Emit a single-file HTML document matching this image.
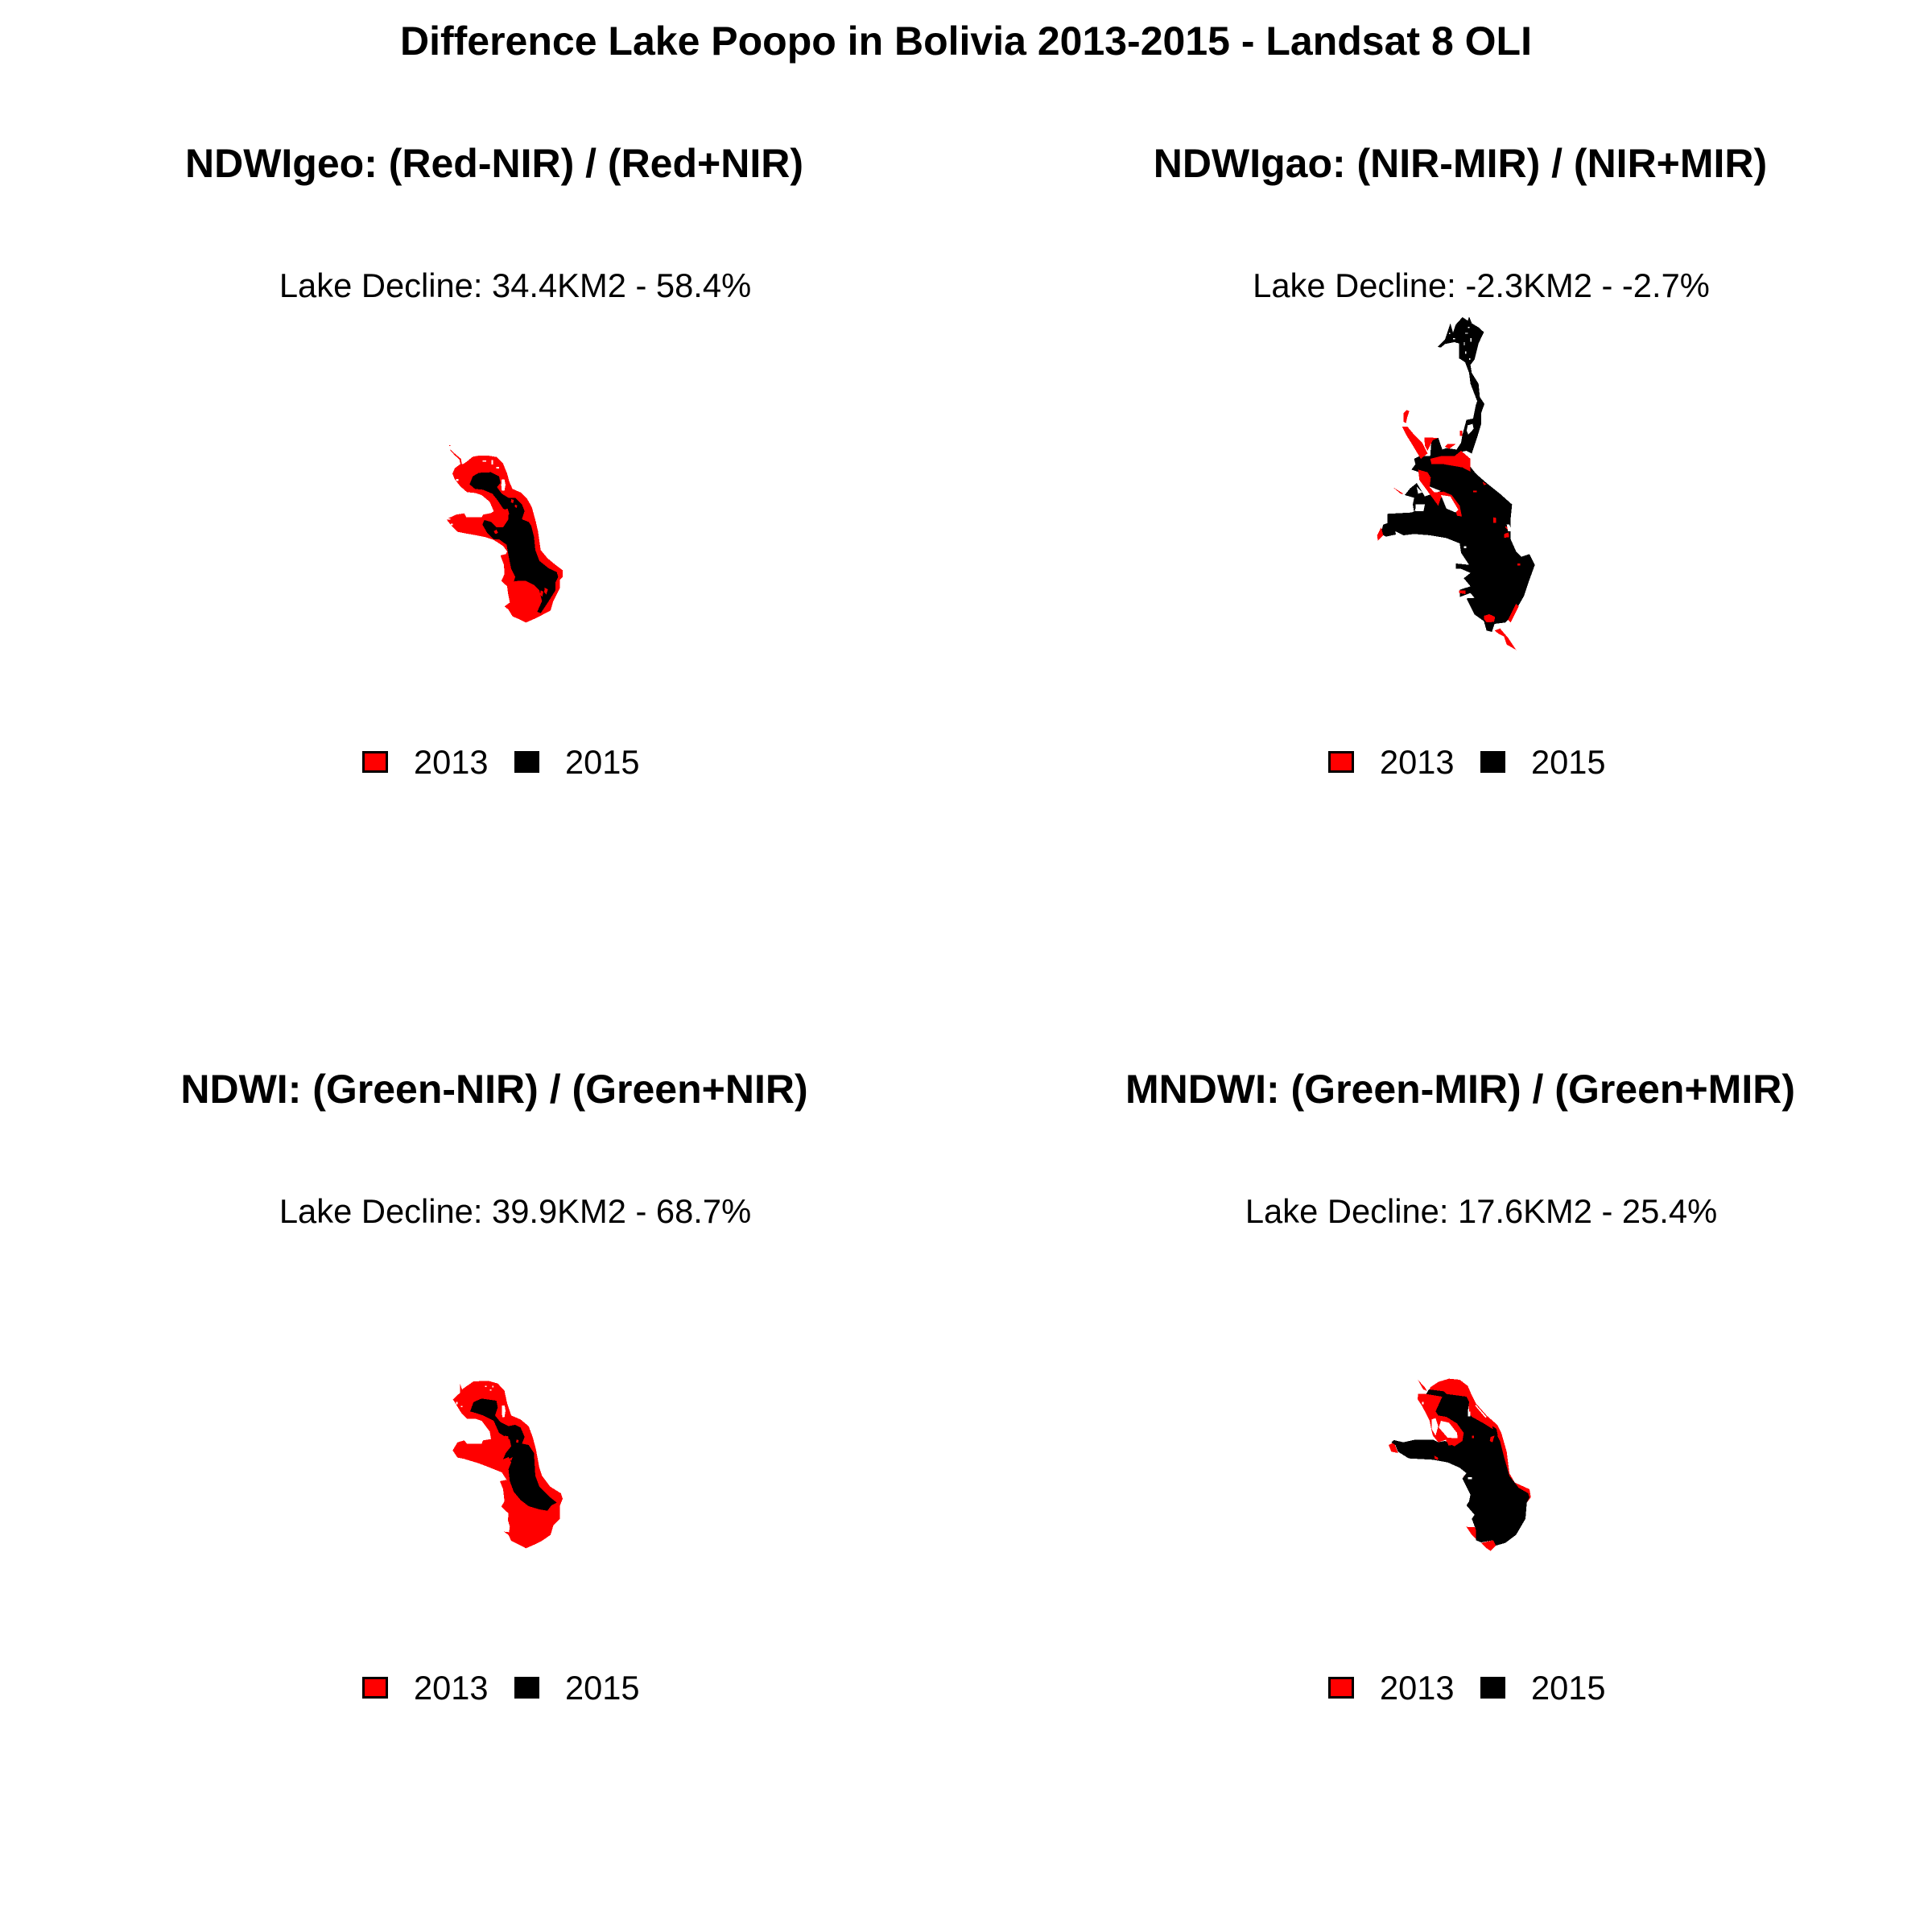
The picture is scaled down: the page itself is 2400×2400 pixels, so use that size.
<!DOCTYPE html>
<html lang="en">
<head>
<meta charset="utf-8">
<title>Difference Lake Poopo in Bolivia 2013-2015</title>
<style>
html,body{margin:0;padding:0;background:#fff;width:2400px;height:2400px;overflow:hidden}
svg{display:block}
text{font-family:"Liberation Sans",Arial,sans-serif;fill:#000}
.main{font-size:50px;font-weight:bold;text-anchor:middle}
.sub{font-size:50px;font-weight:bold;text-anchor:middle}
.dec{font-size:41.7px;text-anchor:middle}
.leg{font-size:41.6px}
.r{fill:#f00}.k{fill:#000}.w{fill:#fff}
</style>
</head>
<body>
<svg xmlns="http://www.w3.org/2000/svg" width="2400" height="2400" viewBox="0 0 2400 2400">
<defs>
<g id="legend-art">
<rect x="451.5" y="934.5" width="29" height="24" fill="#f00" stroke="#000" stroke-width="3"/>
<rect x="640.5" y="934.5" width="28" height="24" fill="#000" stroke="#000" stroke-width="3"/>
</g>
</defs>
<text class="main" x="1200" y="68">Difference Lake Poopo in Bolivia 2013-2015 - Landsat 8 OLI</text>

<!-- Panel 1 -->
<g>
<text class="sub" x="614" y="220">NDWIgeo: (Red-NIR) / (Red+NIR)</text>
<text class="dec" x="640" y="369">Lake Decline: 34.4KM2 - 58.4%</text>
<g transform="translate(500,520) scale(0.33333)" shape-rendering="crispEdges">
<path class="r" d="M225 170L240 160 262 142 285 138 320 138 350 143 375 168 390 205 398 235 410 262 440 275 465 300 482 330 497 385 505 420 515 490 540 520 570 545 597 565 597 590 587 600 587 630 562 680 552 715 520 732 490 747 460 760 440 750 410 737 395 712 380 700 400 685 393 650 390 625 368 605 380 580 378 545 365 510 385 505 390 495 375 475 340 452 310 442 270 434 230 427 205 422 185 402 163 375 200 358 230 353 238 368 295 368 300 358 330 352 340 345 325 310 295 285 270 277 240 274 215 252 195 227 186 205 195 185 215 170Z"/>
<path class="r" d="M178 115L200 135 218 150 222 172 216 170 212 152 195 137 178 118ZM174 99h4v3h-4Z"/>
<path class="k" d="M250 245L262 215 285 202 330 200 360 215 365 240 352 255 370 280 395 295 420 295 445 320 455 345 445 375 470 385 480 400 490 440 495 490 510 530 545 558 575 572 580 590 570 610 570 640 545 680 515 725 502 720 520 680 510 640 490 620 460 605 430 605 415 607 420 590 405 560 395 510 388 470 360 450 340 450 315 425 298 395 305 378 330 385 350 405 375 405 395 375 395 345 375 335 355 305 335 280 300 265 270 262Z"/>
<path class="r" d="M378 340l14-5 6 22-12 5ZM340 420l10-6 6 12-10 4ZM405 300l10 3-3 12-8-3ZM420 320l8 4-4 10-6-6ZM515 640l10 5-4 20-8-10ZM530 630l12 6-6 20-8-8Z"/>
<path class="w" d="M370 226h10l4 20-4 22h-10l-2-20ZM298 156h14v4h-14ZM332 155h6v16h-6ZM350 180h10v6h-10ZM200 225h8v8h-8ZM164 372h14v4h-14ZM180 392h8v5h-8Z"/>
</g>
<use href="#legend-art"/>
<text class="leg" x="514" y="961">2013</text>
<text class="leg" x="702" y="961">2015</text>
</g>

<!-- Panel 2 -->
<g>
<text class="sub" x="1814" y="220">NDWIgao: (NIR-MIR) / (NIR+MIR)</text>
<text class="dec" x="1840" y="369">Lake Decline: -2.3KM2 - -2.7%</text>
<g transform="translate(1680,370) scale(0.33333)" shape-rendering="crispEdges">
<path class="k" d="M318 183L345 155 365 95 375 130 385 100 410 72 430 85 435 70 445 95 470 110 490 128 470 170 455 230 440 250 445 280 470 320 475 370 492 395 480 430 480 470 465 520 445 580 425 570 400 575 385 570 405 540 410 510 425 455 450 450 460 400 465 385 440 320 435 280 420 240 397 225 397 170 380 165 345 172 330 185Z"/>
<path class="k" d="M295 525L320 522 335 565 350 560 385 565 440 600 440 630 460 655 500 690 550 730 595 770 590 820 590 900 610 945 630 965 660 955 680 995 660 1050 640 1110 600 1180 570 1210 530 1215 520 1245 500 1240 490 1205 455 1180 425 1120 455 1118 440 1100 400 1115 400 1088 440 1075 415 1045 440 1025 405 1010 385 1010 385 990 435 995 405 950 400 915 350 895 290 885 230 880 190 885 160 870 162 882 125 890 105 880 115 845 130 840 130 805 220 800 270 780 240 770 230 800 225 770 230 745 195 735 215 710 240 690 270 740 330 720 280 700 250 650 220 640 235 620 230 600 250 590 290 590Z"/>
<path class="r" d="M290 600L330 590 380 590 405 570 440 600 440 648 410 632 340 620 295 620ZM245 640L280 650 292 670 288 705 305 725 340 722 370 735 400 775 408 815 390 812 380 775 350 742 330 745 320 775 280 720 250 680ZM268 520L320 522 300 530 280 570 270 550ZM355 545l30 0-25 18-15-8ZM490 1185l20-6 22 10-4 18-14 2-14 0-10-12ZM530 1240l20-8 30 35 30 45-35-20-10-30-20-10ZM190 430l12-12 10 4-8 25-4 20-10-5ZM185 480l20 0 25 30 30 30 20 40-25 20-30-50-25-40ZM397 1090l25 0 0 14-25-4ZM566 880l16-6 2 18-18 2ZM525 818l10 2 0 18-10 0ZM570 850l8 6 2 10-10-10ZM610 1140l10 10-30 60-10-10ZM150 705l40 25-10 0ZM92 885l15-30 8 30-20 20ZM450 718l14 0 0 6-14 0ZM485 685l15 10-10 3ZM615 990l10 0 0 8-10 0ZM400 495l10 0 0 20-10 0Z"/>
<path class="w" d="M330 735L365 740 395 790 385 800 350 785ZM430 475l18-5 4 18-20 22-6-15ZM240 705l20 20-15 5ZM575 845l10 0 10 25-15 0ZM235 770l35 0-5 25-30 0ZM415 925h10v8h-10ZM360 130h5v5h-5ZM420 130h10v4h-10ZM415 165h3v12h-3ZM440 150h4v14h-4ZM420 200h4v8h-4ZM435 225h5v6h-5ZM375 150h8v4h-8ZM430 108h6v4h-6Z"/>
</g>
<use href="#legend-art" transform="translate(1200,0)"/>
<text class="leg" x="1714" y="961">2013</text>
<text class="leg" x="1902" y="961">2015</text>
</g>

<!-- Panel 3 -->
<g>
<text class="sub" x="614" y="1370">NDWI: (Green-NIR) / (Green+NIR)</text>
<text class="dec" x="640" y="1519">Lake Decline: 39.9KM2 - 68.7%</text>
<g transform="translate(500,1690) scale(0.33333)" shape-rendering="crispEdges">
<path class="r" d="M215 88L222 108 240 95 265 78 320 76 355 86 380 113 390 160 405 205 440 220 470 245 485 285 497 330 510 400 520 430 550 470 590 495 597 515 587 540 587 590 562 615 552 650 520 672 490 687 460 700 435 687 405 672 395 650 378 638 397 640 400 620 393 595 395 570 368 545 380 525 375 480 363 450 388 445 370 417 320 397 280 382 230 367 205 362 187 335 205 305 230 298 240 310 295 310 300 298 330 293 325 265 295 225 270 217 240 217 220 197 188 145 215 120Z"/>
<path class="k" d="M252 190L265 155 295 142 350 150 355 175 345 205 365 230 395 245 420 240 440 250 455 285 445 310 470 315 490 345 495 430 510 470 550 510 575 530 555 540 540 560 510 555 470 543 440 520 415 490 400 450 395 405 405 380 395 360 375 368 385 345 405 320 400 295 360 270 340 225 300 205 270 195Z"/>
<path class="r" d="M380 280l14 3 2 16-12-2ZM410 360l-4 14-10-6ZM425 295l8 2-2 10-8-2Z"/>
<path class="w" d="M371 168h10l3 20-4 24h-8l-2-22ZM308 94h5v5h-5ZM335 95h4v5h-4ZM325 108h6v4h-6ZM200 155h6v8h-6ZM218 170h6v4h-6Z"/>
</g>
<use href="#legend-art" transform="translate(0,1150)"/>
<text class="leg" x="514" y="2111">2013</text>
<text class="leg" x="702" y="2111">2015</text>
</g>

<!-- Panel 4 -->
<g>
<text class="sub" x="1814" y="1370">MNDWI: (Green-MIR) / (Green+MIR)</text>
<text class="dec" x="1840" y="1519">Lake Decline: 17.6KM2 - 25.4%</text>
<g transform="translate(1700,1690) scale(0.33333)" shape-rendering="crispEdges">
<path class="r" d="M230 100L260 80 300 68 340 72 370 95 385 130 400 160 440 205 480 240 495 270 515 340 525 420 545 455 600 480 605 510 590 530 520 440 480 300 380 220 370 150 280 130 225 120ZM185 125L215 125 275 135 250 190 260 205 290 210 330 235 355 270 350 300 320 320 290 315 290 295 260 305 240 280 235 260 228 225 200 170 183 145ZM420 680L465 670 475 690 455 710 440 700ZM365 620L400 622 400 665 385 650ZM75 315L95 305 110 345 85 340ZM180 68l30 32 8 14-14-6-20-36ZM355 430l15-3 20 17-30-2Z"/>
<path class="k" d="M95 297L130 305 175 295 240 295 260 305 285 300 320 320 350 300 355 270 330 235 290 210 260 205 250 190 275 135 215 125 225 108 280 115 290 125 365 135 375 155 370 190 385 210 430 235 470 260 490 300 505 360 525 430 560 475 595 495 600 510 590 530 585 590 550 650 510 680 475 690 465 670 420 678 400 670 400 630 385 590 395 575 365 540 375 525 380 500 370 480 350 440 365 420 340 400 295 380 240 370 150 365 110 340 100 315 85 305Z"/>
<path class="r" d="M420 680L465 670 475 690 455 710 440 700ZM290 295l30 0 8 18-30 4ZM455 285l15-5-8 25-10-5ZM480 265l15 20 20 55-10 0-15-50ZM245 355l15 8-2 8-12-6ZM385 280l8 0 0 10-8 0Z"/>
<path class="k" d="M462 245l15 10 5 25-15 0Z"/>
<path class="w" d="M270 225L300 232 330 270 332 290 295 288 262 250ZM235 220l15-5 10 30-10 35-15-25ZM400 165l40 45-4 4-38-45ZM370 190h10v18h-10ZM200 155h6v8h-6ZM370 435h15v8h-15Z"/>
</g>
<use href="#legend-art" transform="translate(1200,1150)"/>
<text class="leg" x="1714" y="2111">2013</text>
<text class="leg" x="1902" y="2111">2015</text>
</g>
</svg>
</body>
</html>
